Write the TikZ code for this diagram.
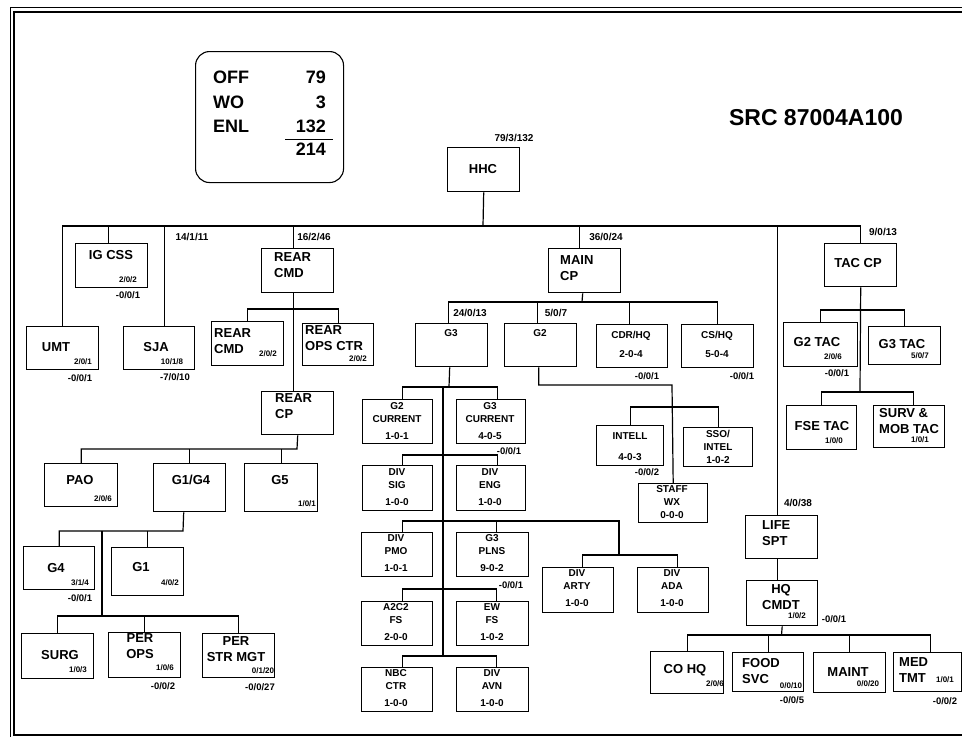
\documentclass[tikz,border=0pt]{standalone}
\usepackage{fontspec}
\setmainfont{Liberation Sans}
\usepackage{tikz}

\tikzset{
  unitbox/.style={draw, line width=1.4pt, anchor=north west, inner sep=0pt},
  bigtxt/.style={font=\bfseries\fontsize{13}{16}\selectfont, inner sep=0pt, align=left},
  midtxt/.style={font=\bfseries\fontsize{10}{13}\selectfont, inner sep=0pt, align=center},
  strtxt/.style={font=\bfseries\fontsize{8}{9}\selectfont, inner sep=0pt},
  adjtxt/.style={font=\bfseries\fontsize{9.5}{10}\selectfont, inner sep=0pt},
  grptxt/.style={font=\bfseries\fontsize{10}{11}\selectfont, inner sep=0pt},
  sumtxt/.style={font=\bfseries\fontsize{18}{20}\selectfont, inner sep=0pt},
  conn/.style={line width=1.2pt}
}

\begin{document}
\begin{tikzpicture}[x=1pt, y=-1pt]
  \useasboundingbox (0,0) rectangle (962,739);
  % Frame
  \draw[line width=0.7pt] (962,7) -- (10,7) -- (10,737);
  \draw[line width=1.6pt] (962,12) -- (14,12) -- (14,735) -- (962,735);

  % Strength summary
  \node[draw, line width=1.1pt, rounded corners=14pt, anchor=north west, minimum width=148, minimum height=131] (summary) at (195,51) {};
  \node[sumtxt, anchor=west] (off) at (213,77) {OFF};
  \node[sumtxt, anchor=west] (wo) at (213,102) {WO};
  \node[sumtxt, anchor=west] (enl) at (213,126) {ENL};
  \node[sumtxt, anchor=east] (off-n) at (326,77) {79};
  \node[sumtxt, anchor=east] (wo-n) at (326,102) {3};
  \node[sumtxt, anchor=east] (enl-n) at (326,126) {132};
  \node[sumtxt, anchor=east] (total) at (326,149) {214};
  \draw[line width=1pt] (285,139) -- (333,139);
  \node[font=\bfseries\fontsize{23}{26}\selectfont, inner sep=0pt] (src) at (816,118) {SRC 87004A100};

  % HHC and first row
  \node[unitbox, minimum width=72, minimum height=44] (hhc) at (447,147) {};
  \node[bigtxt] (t-hhc) at (483,169) {HHC};
  \node[grptxt] (s-hhc) at (514,138) {79/3/132};
  \node[unitbox, minimum width=72, minimum height=43] (umt) at (26,326) {};
  \node[bigtxt] (t-umt) at (56,347) {UMT};
  \node[strtxt] (n-umt) at (83,362) {2/0/1};
  \node[adjtxt] (d-umt) at (80,378) {-0/0/1};
  \node[unitbox, minimum width=72, minimum height=44] (igcss) at (75,243) {};
  \node[bigtxt] (t-igcss) at (111,255) {IG CSS};
  \node[strtxt] (n-igcss) at (128,280) {2/0/2};
  \node[adjtxt] (d-igcss) at (128,295) {-0/0/1};
  \node[unitbox, minimum width=71, minimum height=43] (sja) at (123,326) {};
  \node[bigtxt] (t-sja) at (156,347) {SJA};
  \node[strtxt] (n-sja) at (172,362) {10/1/8};
  \node[adjtxt] (d-sja) at (175,377) {-7/0/10};
  \node[grptxt] (s-sja) at (192,237) {14/1/11};
  \node[unitbox, minimum width=72, minimum height=44] (rearcmd) at (261,248) {};
  \node[bigtxt, anchor=west] (t-rearcmd) at (274,265) {REAR\\CMD};
  \node[grptxt] (s-rearcmd) at (314,237) {16/2/46};
  \node[unitbox, minimum width=72, minimum height=44] (maincp) at (548,248) {};
  \node[bigtxt, anchor=west] (t-maincp) at (560,268) {MAIN\\CP};
  \node[grptxt] (s-maincp) at (606,237) {36/0/24};
  \node[unitbox, minimum width=72, minimum height=43] (taccp) at (824,243) {};
  \node[bigtxt] (t-taccp) at (858,263) {TAC CP};
  \node[grptxt] (s-taccp) at (883,232) {9/0/13};
  \node[unitbox, minimum width=72, minimum height=43] (lifespt) at (745,515) {};
  \node[bigtxt, anchor=west] (t-lifespt) at (762,533) {LIFE\\SPT};
  \node[grptxt] (s-lifespt) at (798,503) {4/0/38};

  % Rear command
  \node[unitbox, minimum width=72, minimum height=44] (rcmd2) at (211,321) {};
  \node[bigtxt, anchor=west] (t-rcmd2) at (214,341) {REAR\\CMD};
  \node[strtxt] (n-rcmd2) at (268,354) {2/0/2};
  \node[unitbox, minimum width=71, minimum height=42] (rops) at (302,323) {};
  \node[bigtxt, anchor=west] (t-rops) at (305,338) {REAR\\OPS CTR};
  \node[strtxt] (n-rops) at (358,359) {2/0/2};
  \node[unitbox, minimum width=72, minimum height=43] (rearcp) at (261,391) {};
  \node[bigtxt, anchor=west] (t-rearcp) at (275,406) {REAR\\CP};
  \node[unitbox, minimum width=73, minimum height=43] (pao) at (44,463) {};
  \node[bigtxt] (t-pao) at (80,480) {PAO};
  \node[strtxt] (n-pao) at (103,499) {2/0/6};
  \node[unitbox, minimum width=72, minimum height=48] (g1g4) at (153,463) {};
  \node[bigtxt] (t-g1g4) at (191,480) {G1/G4};
  \node[unitbox, minimum width=73, minimum height=48] (g5) at (244,463) {};
  \node[bigtxt] (t-g5) at (280,480) {G5};
  \node[strtxt] (n-g5) at (307,504) {1/0/1};
  \node[unitbox, minimum width=71, minimum height=43] (g4) at (23,546) {};
  \node[bigtxt] (t-g4) at (56,568) {G4};
  \node[strtxt] (n-g4) at (80,583) {3/1/4};
  \node[adjtxt] (d-g4) at (80,598) {-0/0/1};
  \node[unitbox, minimum width=72, minimum height=48] (g1) at (111,547) {};
  \node[bigtxt] (t-g1) at (141,567) {G1};
  \node[strtxt] (n-g1) at (170,583) {4/0/2};
  \node[unitbox, minimum width=72, minimum height=45] (surg) at (21,633) {};
  \node[bigtxt] (t-surg) at (60,655) {SURG};
  \node[strtxt] (n-surg) at (78,670) {1/0/3};
  \node[unitbox, minimum width=72, minimum height=45] (perops) at (108,632) {};
  \node[bigtxt, align=center] (t-perops) at (140,646) {PER\\OPS};
  \node[strtxt] (n-perops) at (165,668) {1/0/6};
  \node[adjtxt] (d-perops) at (163,686) {-0/0/2};
  \node[unitbox, minimum width=72, minimum height=44] (perstr) at (202,633) {};
  \node[bigtxt, align=center] (t-perstr) at (236,649) {PER\\STR MGT};
  \node[strtxt] (n-perstr) at (263,671) {0/1/20};
  \node[adjtxt] (d-perstr) at (260,687) {-0/0/27};

  % Main CP
  \node[unitbox, minimum width=72, minimum height=43] (g3) at (415,323) {};
  \node[midtxt] (t-g3) at (451,333) {G3};
  \node[grptxt] (s-g3) at (470,313) {24/0/13};
  \node[unitbox, minimum width=72, minimum height=43] (g2) at (504,323) {};
  \node[midtxt] (t-g2) at (540,333) {G2};
  \node[grptxt] (s-g2) at (556,313) {5/0/7};
  \node[unitbox, minimum width=71, minimum height=43] (cdrhq) at (596,324) {};
  \node[midtxt] (t-cdrhq) at (631,344.5) {CDR/HQ\\[6pt]2-0-4};
  \node[adjtxt] (d-cdrhq) at (647,376) {-0/0/1};
  \node[unitbox, minimum width=72, minimum height=43] (cshq) at (681,324) {};
  \node[midtxt] (t-cshq) at (717,344.5) {CS/HQ\\[6pt]5-0-4};
  \node[adjtxt] (d-cshq) at (742,376) {-0/0/1};
  \node[unitbox, minimum width=67, minimum height=40] (intell) at (596,425) {};
  \node[midtxt] (t-intell) at (630,446.5) {INTELL\\[8pt]4-0-3};
  \node[adjtxt] (d-intell) at (647,472) {-0/0/2};
  \node[unitbox, minimum width=69, minimum height=39] (sso) at (683,427) {};
  \node[midtxt] (t-sso) at (718,446.5) {SSO/\\INTEL\\1-0-2};
  \node[unitbox, minimum width=69, minimum height=39] (staffwx) at (638,483) {};
  \node[midtxt] (t-staffwx) at (672,502.5) {STAFF\\WX\\0-0-0};
  \node[unitbox, minimum width=70, minimum height=44] (g2cur) at (362,399) {};
  \node[midtxt] (t-g2cur) at (397,421) {G2\\CURRENT\\[4pt]1-0-1};
  \node[unitbox, minimum width=69, minimum height=44] (g3cur) at (456,399) {};
  \node[midtxt] (t-g3cur) at (490,421) {G3\\CURRENT\\[4pt]4-0-5};
  \node[adjtxt] (d-g3cur) at (509,451) {-0/0/1};
  \node[unitbox, minimum width=70, minimum height=45] (divsig) at (362,465) {};
  \node[midtxt] (t-divsig) at (397,487) {DIV\\SIG\\[4pt]1-0-0};
  \node[unitbox, minimum width=69, minimum height=45] (diveng) at (456,465) {};
  \node[midtxt] (t-diveng) at (490,487) {DIV\\ENG\\[4pt]1-0-0};
  \node[unitbox, minimum width=71, minimum height=44] (divpmo) at (361,532) {};
  \node[midtxt] (t-divpmo) at (396,553) {DIV\\PMO\\[4pt]1-0-1};
  \node[unitbox, minimum width=72, minimum height=44] (g3plns) at (456,532) {};
  \node[midtxt] (t-g3plns) at (492,553) {G3\\PLNS\\[4pt]9-0-2};
  \node[adjtxt] (d-g3plns) at (511,585) {-0/0/1};
  \node[unitbox, minimum width=71, minimum height=44] (a2c2) at (361,601) {};
  \node[midtxt] (t-a2c2) at (396,622) {A2C2\\FS\\[4pt]2-0-0};
  \node[unitbox, minimum width=72, minimum height=44] (ewfs) at (456,601) {};
  \node[midtxt] (t-ewfs) at (492,622) {EW\\FS\\[4pt]1-0-2};
  \node[unitbox, minimum width=71, minimum height=44] (nbc) at (361,667) {};
  \node[midtxt] (t-nbc) at (396,688) {NBC\\CTR\\[4pt]1-0-0};
  \node[unitbox, minimum width=72, minimum height=44] (divavn) at (456,667) {};
  \node[midtxt] (t-divavn) at (492,688) {DIV\\AVN\\[4pt]1-0-0};
  \node[unitbox, minimum width=71, minimum height=45] (arty) at (542,567) {};
  \node[midtxt] (t-arty) at (577,588) {DIV\\ARTY\\[4pt]1-0-0};
  \node[unitbox, minimum width=71, minimum height=45] (ada) at (637,567) {};
  \node[midtxt] (t-ada) at (672,588) {DIV\\ADA\\[4pt]1-0-0};

  % TAC CP
  \node[unitbox, minimum width=74, minimum height=44] (g2tac) at (783,322) {};
  \node[bigtxt] (t-g2tac) at (817,342) {G2 TAC};
  \node[strtxt] (n-g2tac) at (833,357) {2/0/6};
  \node[adjtxt] (d-g2tac) at (837,373) {-0/0/1};
  \node[unitbox, minimum width=72, minimum height=38] (g3tac) at (868,326) {};
  \node[bigtxt] (t-g3tac) at (902,344) {G3 TAC};
  \node[strtxt] (n-g3tac) at (920,356) {5/0/7};
  \node[unitbox, minimum width=70, minimum height=44] (fsetac) at (786,405) {};
  \node[bigtxt] (t-fsetac) at (822,426) {FSE TAC};
  \node[strtxt] (n-fsetac) at (834,441) {1/0/0};
  \node[unitbox, minimum width=71, minimum height=42] (surv) at (873,405) {};
  \node[bigtxt, anchor=west] (t-surv) at (879,421) {SURV \&\\MOB TAC};
  \node[strtxt] (n-surv) at (920,440) {1/0/1};

  % Life support
  \node[unitbox, minimum width=71, minimum height=45] (hqcmdt) at (746,580) {};
  \node[bigtxt, align=center] (t-hqcmdt) at (781,597) {HQ\\CMDT};
  \node[strtxt] (n-hqcmdt) at (797,616) {1/0/2};
  \node[adjtxt] (d-hqcmdt) at (834,619) {-0/0/1};
  \node[unitbox, minimum width=73, minimum height=42] (cohq) at (650,651) {};
  \node[bigtxt] (t-cohq) at (685,670) {CO HQ};
  \node[strtxt] (n-cohq) at (715,684) {2/0/6};
  \node[unitbox, minimum width=71, minimum height=39] (food) at (732,652) {};
  \node[bigtxt, anchor=west] (t-food) at (742,671) {FOOD\\SVC};
  \node[strtxt] (n-food) at (791,686) {0/0/10};
  \node[adjtxt] (d-food) at (792,700) {-0/0/5};
  \node[unitbox, minimum width=72, minimum height=40] (maint) at (813,652) {};
  \node[bigtxt] (t-maint) at (848,672) {MAINT};
  \node[strtxt] (n-maint) at (868,684) {0/0/20};
  \node[unitbox, minimum width=68, minimum height=39] (medtmt) at (893,652) {};
  \node[bigtxt, anchor=west] (t-medtmt) at (899,670.5) {MED\\TMT};
  \node[strtxt] (n-medtmt) at (945,680) {1/0/1};
  \node[adjtxt] (d-medtmt) at (945,701) {-0/0/2};

  % Lines from HHC
  \coordinate (hbus) at (483,226);
  \draw[conn] (hhc.south) -- (hbus);
  \draw[conn] (umt.north) |- (hbus) -| (taccp.north);
  \draw[conn] ([xshift=-3pt]igcss.north) -- ([xshift=-3pt]igcss.north |- hbus);
  \draw[conn] ([xshift=5pt]sja.north) -- ([xshift=5pt]sja.north |- hbus);
  \draw[conn] ([xshift=-4pt]rearcmd.north) -- ([xshift=-4pt]rearcmd.north |- hbus);
  \draw[conn] ([xshift=-5pt]maincp.north) -- ([xshift=-5pt]maincp.north |- hbus);
  \draw[conn] ([xshift=-4pt]lifespt.north) -- ([xshift=-4pt]lifespt.north |- hbus);

  % Lines rear
  \coordinate (rcbus) at (293,309);
  \draw[conn] ([xshift=-4pt]rearcmd.south) -- ([xshift=-4pt]rearcp.north);
  \draw[conn] (rcmd2.north) |- (rcbus) -| (rops.north);
  \coordinate (rcpbus) at (297,449);
  \draw[conn] (rearcp.south) -- (rcpbus) -| (pao.north);
  \draw[conn] (g1g4.north) -- (g1g4.north |- rcpbus);
  \draw[conn] (g5.north) -- (g5.north |- rcpbus);
  \coordinate (g14bus) at (183,531);
  \draw[conn] ([xshift=-6pt]g1g4.south) -- (g14bus) -| (g4.north);
  \draw[conn] (g1.north) -- (g1.north |- g14bus);
  \coordinate (g14trunk) at (102,531);
  \coordinate (perbus) at (102,616);
  \draw[conn] (g14trunk) -- (perbus);
  \draw[conn] (surg.north) |- (perbus) -| (perstr.north);
  \draw[conn] (perops.north) -- (perops.north |- perbus);

  % Lines main CP
  \coordinate (mbus) at (582,302);
  \draw[conn] ([xshift=-2pt]maincp.south) -- (mbus);
  \draw[conn] ([xshift=-3pt]g3.north) |- (mbus) -| (cshq.north);
  \draw[conn] ([xshift=-3pt]g2.north) -- ([xshift=-3pt]g2.north |- mbus);
  \draw[conn] ([xshift=-3pt]cdrhq.north) -- ([xshift=-3pt]cdrhq.north |- mbus);
  \coordinate (g2turn) at (672,385);
  \draw[conn] ([xshift=-2pt]g2.south) |- (g2turn) -- (staffwx.north);
  \coordinate (intbus) at (672,407);
  \draw[conn] (intell.north) |- (intbus) -| (sso.north);
  \coordinate (g3bus) at (449,387);
  \draw[conn] ([xshift=-2pt]g3.south) -- (g3bus);
  \draw[conn] ([xshift=5pt]g2cur.north) |- (g3bus) -| ([xshift=6pt]g3cur.north);
  \coordinate (g3top) at (443,387);
  \coordinate (g3end) at (443,656);
  \draw[conn] (g3top) -- (g3end);
  \draw[conn] ([xshift=5pt]divsig.north) -- ++(0,-10) -| ([xshift=6pt]diveng.north);
  \coordinate (artyup) at (619,521);
  \coordinate (artybus) at (619,555);
  \draw[conn] ([xshift=5pt]divpmo.north) |- (artyup) -- (artybus);
  \draw[conn] ([xshift=4pt]g3plns.north) -- ([xshift=4pt]g3plns.north |- artyup);
  \draw[conn] ([xshift=4pt]arty.north) |- (artybus) -| ([xshift=4pt]ada.north);
  \draw[conn] ([xshift=5pt]a2c2.north) -- ++(0,-12) -| ([xshift=4pt]ewfs.north);
  \draw[conn] ([xshift=5pt]nbc.north) -- ++(0,-11) -| ([xshift=4pt]divavn.north);

  % Lines TAC CP
  \coordinate (tacbus1) at (860,310);
  \coordinate (tacbus2) at (860,392);
  \draw[conn] (taccp.south) -- (tacbus2);
  \draw[conn] (g2tac.north) |- (tacbus1) -| (g3tac.north);
  \draw[conn] (fsetac.north) |- (tacbus2) -| ([xshift=4pt]surv.north);

  % Lines life support
  \draw[conn] ([xshift=-4pt]lifespt.south) -- ([xshift=-4.5pt]hqcmdt.north);
  \coordinate (hqbus) at (781.5,635);
  \draw[conn] (hqcmdt.south) -- (hqbus);
  \draw[conn] (cohq.north) |- (hqbus) -| ([xshift=3pt]medtmt.north);
  \draw[conn] (food.north) -- (food.north |- hqbus);
  \draw[conn] (maint.north) -- (maint.north |- hqbus);
\end{tikzpicture}
\end{document}
